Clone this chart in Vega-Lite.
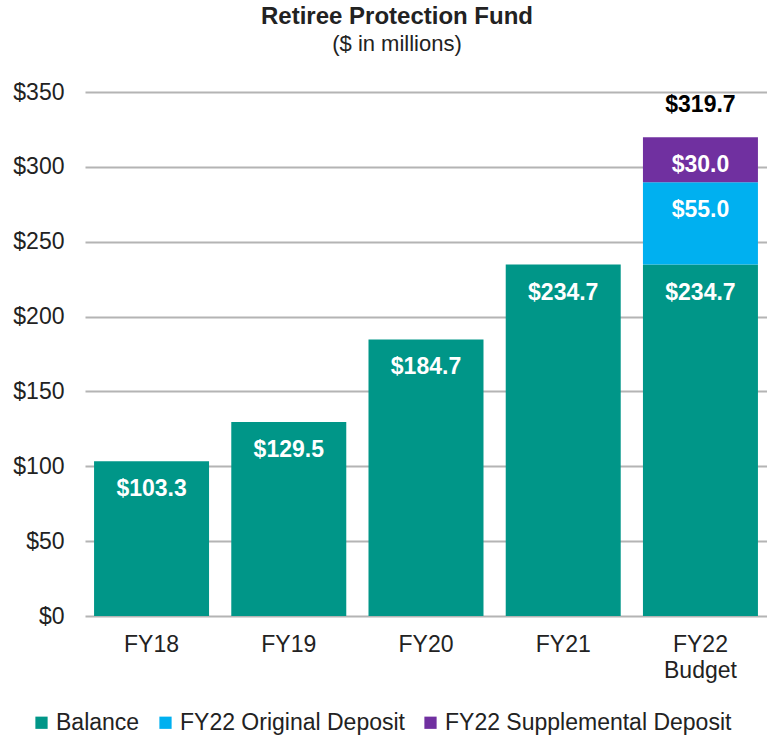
{
  "$schema": "https://vega.github.io/schema/vega-lite/v6.json",
  "width": 682,
  "height": 524,
  "autosize": "none",
  "padding": {"left": 85, "top": 92, "right": 0, "bottom": 120},
  "background": "white",
  "config": {
    "font": "Liberation Sans",
    "view": {"stroke": null}
  },
  "title": {
    "text": "Retiree Protection Fund",
    "subtitle": "($ in millions)",
    "anchor": "middle",
    "dx": -29,
    "offset": 26,
    "fontSize": 24,
    "fontWeight": "bold",
    "color": "#222222",
    "subtitleFontSize": 22,
    "subtitleColor": "#222222",
    "subtitlePadding": 5,
    "font": "Liberation Sans",
    "subtitleFont": "Liberation Sans"
  },
  "datasets": {
    "segments": [
      {"year": "FY18", "series": "Balance", "value": 103.3},
      {"year": "FY19", "series": "Balance", "value": 129.5},
      {"year": "FY20", "series": "Balance", "value": 184.7},
      {"year": "FY21", "series": "Balance", "value": 234.7},
      {"year": "FY22 Budget", "series": "Balance", "value": 234.7},
      {"year": "FY22 Budget", "series": "FY22 Original Deposit", "value": 55.0},
      {"year": "FY22 Budget", "series": "FY22 Supplemental Deposit", "value": 30.0}
    ],
    "totals": [
      {"year": "FY22 Budget", "total": 319.7}
    ]
  },
  "layer": [
    {
      "data": {"name": "segments"},
      "mark": {"type": "bar"},
      "encoding": {
        "x": {
          "field": "year",
          "type": "nominal",
          "sort": null,
          "scale": {"paddingInner": 0.162, "paddingOuter": 0.066},
          "axis": {
            "title": null,
            "labelAngle": 0,
            "labelFontSize": 23,
            "labelColor": "#222222",
            "labelPadding": 17,
            "domain": false,
            "ticks": false,
            "labelLineHeight": 26,
            "labelBaseline": "top",
            "labelExpr": "datum.value == 'FY22 Budget' ? ['FY22', 'Budget'] : datum.value"
          }
        },
        "y": {
          "field": "value",
          "type": "quantitative",
          "stack": "zero",
          "scale": {"domain": [0, 350], "nice": false},
          "axis": {
            "title": null,
            "values": [0, 50, 100, 150, 200, 250, 300, 350],
            "labelExpr": "'$' + datum.value",
            "labelFontSize": 23,
            "labelColor": "#222222",
            "labelPadding": 21,
            "domain": false,
            "ticks": false,
            "grid": true,
            "gridColor": "#b4b4b4",
            "gridWidth": 2
          }
        },
        "order": {"field": "series", "sort": "ascending"},
        "color": {
          "field": "series",
          "type": "nominal",
          "scale": {
            "domain": ["Balance", "FY22 Original Deposit", "FY22 Supplemental Deposit"],
            "range": ["#009688", "#00b0f0", "#7030a0"]
          },
          "legend": {
            "title": null,
            "orient": "none",
            "direction": "horizontal",
            "legendX": -55,
            "legendY": 619,
            "symbolType": "square",
            "symbolSize": 150,
            "symbolStrokeWidth": 0,
            "labelFontSize": 23,
            "labelColor": "#222222",
            "labelLimit": 0,
            "labelOffset": 3,
            "columnPadding": 14
          }
        }
      }
    },
    {
      "data": {"name": "segments"},
      "mark": {"type": "text", "baseline": "middle", "dy": 28, "fontSize": 23, "fontWeight": "bold", "color": "white"},
      "encoding": {
        "x": {"field": "year", "type": "nominal", "sort": null},
        "y": {"field": "value", "type": "quantitative", "stack": "zero"},
        "order": {"field": "series", "sort": "ascending"},
        "detail": {"field": "series"},
        "text": {"field": "value", "type": "quantitative", "format": "$.1f"}
      }
    },
    {
      "data": {"name": "totals"},
      "mark": {"type": "text", "baseline": "middle", "dy": -32, "fontSize": 23, "fontWeight": "bold", "color": "#000000"},
      "encoding": {
        "x": {"field": "year", "type": "nominal", "sort": null},
        "y": {"field": "total", "type": "quantitative"},
        "text": {"field": "total", "type": "quantitative", "format": "$.1f"}
      }
    }
  ]
}
